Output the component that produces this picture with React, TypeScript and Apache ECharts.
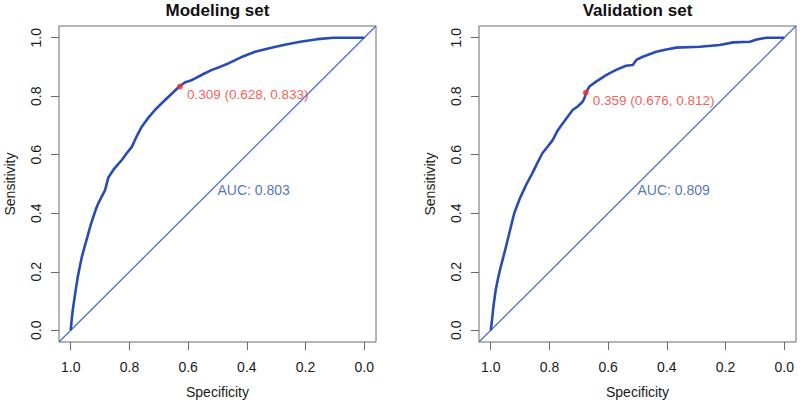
import React, { useEffect, useRef } from "react";
import * as echarts from "echarts";

const titles = ["Modeling set", "Validation set"];
const tickValues = [0, 0.2, 0.4, 0.6, 0.8, 1.0];

const modelSpec = [1.0, 0.997, 0.993, 0.988, 0.982, 0.976, 0.969, 0.962, 0.951, 0.94, 0.932, 0.923, 0.915, 0.906, 0.894, 0.883, 0.872, 0.855, 0.84, 0.826, 0.81, 0.792, 0.775, 0.758, 0.736, 0.713, 0.69, 0.667, 0.648, 0.63, 0.61, 0.593, 0.576, 0.548, 0.519, 0.49, 0.463, 0.42, 0.372, 0.32, 0.275, 0.218, 0.16, 0.105, 0.05, 0.0];
const modelSens = [0.0, 0.035, 0.07, 0.104, 0.145, 0.183, 0.218, 0.252, 0.292, 0.331, 0.36, 0.388, 0.412, 0.434, 0.458, 0.479, 0.522, 0.548, 0.566, 0.582, 0.604, 0.627, 0.664, 0.696, 0.726, 0.753, 0.776, 0.798, 0.816, 0.833, 0.848, 0.853, 0.861, 0.876, 0.89, 0.901, 0.912, 0.933, 0.952, 0.965, 0.975, 0.986, 0.995, 1.0, 1.0, 1.0];

const valSpec = [1.0, 0.997, 0.994, 0.991, 0.983, 0.975, 0.966, 0.951, 0.937, 0.92, 0.903, 0.898, 0.878, 0.858, 0.841, 0.824, 0.806, 0.789, 0.772, 0.755, 0.738, 0.721, 0.704, 0.687, 0.68, 0.676, 0.664, 0.641, 0.607, 0.573, 0.539, 0.516, 0.504, 0.482, 0.436, 0.402, 0.368, 0.288, 0.22, 0.174, 0.117, 0.094, 0.06, 0.009, 0.0];
const valSens = [0.0, 0.024, 0.05, 0.081, 0.138, 0.178, 0.217, 0.274, 0.331, 0.4, 0.445, 0.457, 0.5, 0.537, 0.572, 0.605, 0.628, 0.65, 0.683, 0.707, 0.73, 0.753, 0.765, 0.781, 0.795, 0.812, 0.833, 0.85, 0.872, 0.89, 0.904, 0.907, 0.924, 0.935, 0.952, 0.96, 0.966, 0.969, 0.975, 0.984, 0.986, 0.994, 1.0, 1.0, 1.0];

const thresholds = [0.309, 0.359];
const bestSpec = [0.628, 0.676];
const bestSens = [0.833, 0.812];
const aucValues = [0.803, 0.809];

const FONT = "'Liberation Sans', Arial, Helvetica, sans-serif";
const CURVE = "#284cb2";
const DIAG = "#4a6ed0";
const RED = "#f0352a";
const BOX = "#6a6a6a";

const grids = [
  { left: 59, top: 26, width: 317, height: 316 },
  { left: 479, top: 26, width: 317, height: 316 },
];

export default function App() {
  const ref = useRef<HTMLDivElement>(null);

  useEffect(() => {
    if (!ref.current) return;
    const chart = echarts.init(ref.current, null, { renderer: "svg" });
    const curves = [
      modelSpec.map((s, i) => [s, modelSens[i]]),
      valSpec.map((s, i) => [s, valSens[i]]),
    ];

    const xAxes = grids.map((_, i) => ({
      gridIndex: i,
      type: "value",
      min: -0.04,
      max: 1.04,
      inverse: true,
      axisLine: { show: false, onZero: false },
      splitLine: { show: false },
      axisTick: {
        show: true,
        length: 8,
        customValues: tickValues,
        lineStyle: { color: BOX, width: 1 },
      },
      axisLabel: {
        customValues: tickValues,
        formatter: (v: number) => v.toFixed(1),
        margin: 18,
        fontSize: 14,
        fontFamily: FONT,
        color: "#1a1a1a",
      },
    }));
    const yAxes = grids.map((_, i) => ({
      gridIndex: i,
      type: "value",
      min: -0.04,
      max: 1.04,
      axisLine: { show: false, onZero: false },
      splitLine: { show: false },
      axisTick: {
        show: true,
        length: 8,
        customValues: tickValues,
        lineStyle: { color: BOX, width: 1 },
      },
      axisLabel: {
        customValues: tickValues,
        formatter: (v: number) => v.toFixed(1),
        rotate: 90,
        margin: 16,
        fontSize: 14,
        fontFamily: FONT,
        color: "#1a1a1a",
      },
    }));

    const series: any[] = [];
    grids.forEach((_, i) => {
      series.push({
        type: "line",
        xAxisIndex: i,
        yAxisIndex: i,
        data: [
          [1.04, -0.04],
          [-0.04, 1.04],
        ],
        showSymbol: false,
        lineStyle: { color: DIAG, width: 1.3 },
        silent: true,
        z: 2,
      });
      series.push({
        type: "line",
        xAxisIndex: i,
        yAxisIndex: i,
        data: curves[i],
        showSymbol: false,
        lineStyle: { color: CURVE, width: 2.6 },
        silent: true,
        z: 3,
      });
      series.push({
        type: "scatter",
        xAxisIndex: i,
        yAxisIndex: i,
        data: [[bestSpec[i], bestSens[i]]],
        symbolSize: 6,
        itemStyle: { color: RED },
        label: {
          show: true,
          position: "right",
          distance: 4,
          offset: [0, 8],
          formatter: `${thresholds[i].toFixed(3)} (${bestSpec[i].toFixed(3)}, ${bestSens[i].toFixed(3)})`,
          color: RED,
          fontSize: 13.5,
          fontFamily: FONT,
        },
        silent: true,
        z: 4,
      });
      series.push({
        type: "scatter",
        xAxisIndex: i,
        yAxisIndex: i,
        data: [[0.5, 0.5]],
        symbolSize: 0,
        label: {
          show: true,
          position: "right",
          distance: 0,
          offset: [0, 6],
          formatter: `AUC: ${aucValues[i].toFixed(3)}`,
          color: "#2a4fb0",
          fontSize: 14,
          fontFamily: FONT,
        },
        silent: true,
        z: 4,
      });
    });

    const graphic: any[] = [];
    grids.forEach((g, i) => {
      const cx = g.left + g.width / 2;
      const cy = g.top + g.height / 2;
      graphic.push({
        type: "text",
        x: cx,
        y: 10,
        style: {
          text: titles[i],
          font: `bold 17px ${FONT}`,
          fill: "#111",
          align: "center",
          verticalAlign: "middle",
          textAlign: "center",
          textVerticalAlign: "middle",
        },
      });
      graphic.push({
        type: "text",
        x: cx,
        y: 392,
        style: {
          text: "Specificity",
          font: `14px ${FONT}`,
          fill: "#1a1a1a",
          align: "center",
          verticalAlign: "middle",
          textAlign: "center",
          textVerticalAlign: "middle",
        },
      });
      graphic.push({
        type: "text",
        x: g.left - 49,
        y: cy,
        rotation: Math.PI / 2,
        style: {
          text: "Sensitivity",
          font: `14px ${FONT}`,
          fill: "#1a1a1a",
          align: "center",
          verticalAlign: "middle",
          textAlign: "center",
          textVerticalAlign: "middle",
        },
      });
    });

    chart.setOption({
      animation: false,
      backgroundColor: "#ffffff",
      grid: grids.map((g) => ({
        ...g,
        show: true,
        borderColor: BOX,
        borderWidth: 1,
        backgroundColor: "transparent",
        containLabel: false,
      })),
      xAxis: xAxes,
      yAxis: yAxes,
      series,
      graphic,
    });
    return () => chart.dispose();
  }, []);

  return (
    <div
      ref={ref}
      style={{ position: "fixed", left: 0, top: 0, width: 800, height: 403 }}
    />
  );
}
